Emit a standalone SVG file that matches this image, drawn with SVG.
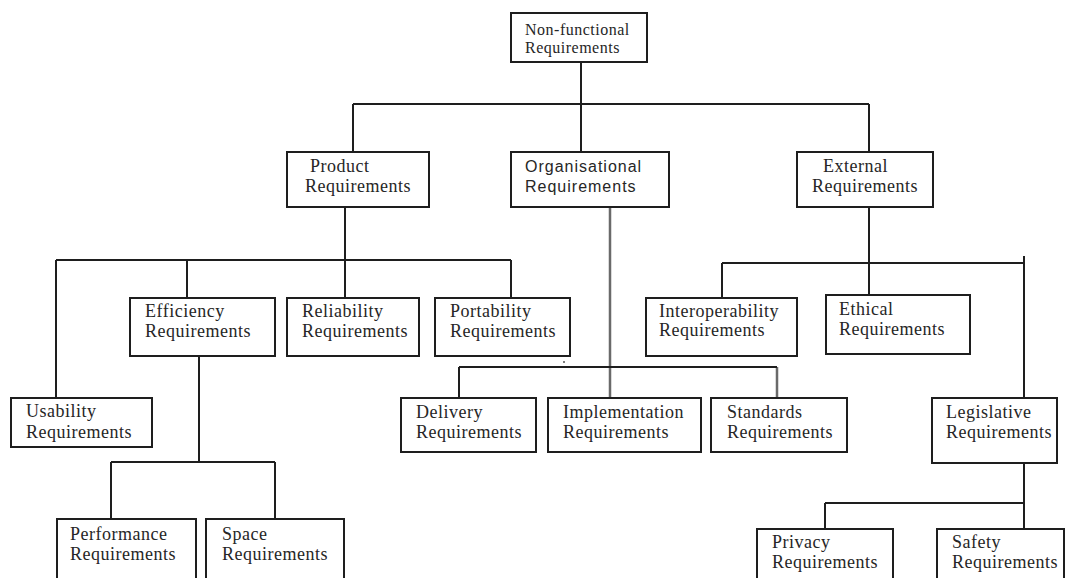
<svg xmlns="http://www.w3.org/2000/svg" width="1066" height="578" viewBox="0 0 1066 578">
<style>
.box{fill:#fff;stroke:#1e1e1e;stroke-width:2}
.t{font-family:"Liberation Serif","Times New Roman",serif;font-size:18px;letter-spacing:0.5px;fill:#262626}
.ts{font-family:"Liberation Sans",Arial,sans-serif;font-size:16px;letter-spacing:1px;fill:#262626}
.c{fill:none;stroke:#1e1e1e;stroke-width:2}
.g{fill:none;stroke:#6a6a6a;stroke-width:2.5}
</style>
<rect width="1066" height="578" fill="#fff"/>
<g id="connectors">
<path class="c" d="M581 62 V104 M353 104 H869 M353 104 V152 M581 104 V152 M869 104 V152"/>
<path class="c" d="M345 207 V298 M56 260 H511 M56 260 V398 M187 260 V298 M511 260 V298"/>
<path class="c" d="M199 356 V462 M111 462 H275 M111 462 V519 M275 462 V519"/>
<path class="g" d="M610 207 V398 M777 367 V398"/>
<path class="c" d="M459 367 H777 M459 367 V398"/>
<path class="c" d="M869 207 V295 M722 263 H1024 M722 263 V298 M1024 256 V398"/>
<path class="c" d="M1024 463 V529 M825 503 H1024 M825 503 V529"/>
<circle cx="564" cy="362" r="1" fill="#555"/>
</g>
<g id="root"><rect class="box" x="511" y="13" width="136" height="49"/><text class="t" style="font-size:16px" x="525" y="35">Non-functional</text><text class="t" style="font-size:16px" x="525" y="53">Requirements</text></g>
<g id="product"><rect class="box" x="287" y="152" width="142" height="55"/><text class="t" x="310" y="172">Product</text><text class="t" x="305" y="192">Requirements</text></g>
<g id="organisational"><rect class="box" x="511" y="152" width="158" height="55"/><text class="ts" x="525" y="172">Organisational</text><text class="ts" x="525" y="192">Requirements</text></g>
<g id="external"><rect class="box" x="797" y="152" width="136" height="55"/><text class="t" x="823" y="172">External</text><text class="t" x="812" y="192">Requirements</text></g>
<g id="efficiency"><rect class="box" x="130" y="298" width="145" height="58"/><text class="t" x="145" y="317">Efficiency</text><text class="t" x="145" y="337">Requirements</text></g>
<g id="reliability"><rect class="box" x="287" y="298" width="132" height="58"/><text class="t" x="302" y="317">Reliability</text><text class="t" x="302" y="337">Requirements</text></g>
<g id="portability"><rect class="box" x="435" y="298" width="135" height="58"/><text class="t" x="450" y="317">Portability</text><text class="t" x="450" y="337">Requirements</text></g>
<g id="interoperability"><rect class="box" x="646" y="298" width="151" height="58"/><text class="t" x="659" y="317">Interoperability</text><text class="t" x="659" y="336">Requirements</text></g>
<g id="ethical"><rect class="box" x="826" y="295" width="144" height="59"/><text class="t" x="839" y="315">Ethical</text><text class="t" x="839" y="335">Requirements</text></g>
<g id="usability"><rect class="box" x="11" y="398" width="141" height="49"/><text class="t" x="26" y="417">Usability</text><text class="t" x="26" y="438">Requirements</text></g>
<g id="delivery"><rect class="box" x="401" y="398" width="135" height="54"/><text class="t" x="416" y="418">Delivery</text><text class="t" x="416" y="438">Requirements</text></g>
<g id="implementation"><rect class="box" x="548" y="398" width="153" height="54"/><text class="t" x="563" y="418">Implementation</text><text class="t" x="563" y="438">Requirements</text></g>
<g id="standards"><rect class="box" x="711" y="398" width="136" height="54"/><text class="t" x="727" y="418">Standards</text><text class="t" x="727" y="438">Requirements</text></g>
<g id="legislative"><rect class="box" x="932" y="398" width="125" height="65"/><text class="t" x="946" y="418">Legislative</text><text class="t" x="946" y="438">Requirements</text></g>
<g id="performance"><rect class="box" x="57" y="519" width="139" height="70"/><text class="t" x="70" y="540">Performance</text><text class="t" x="70" y="560">Requirements</text></g>
<g id="space"><rect class="box" x="206" y="519" width="138" height="70"/><text class="t" x="222" y="540">Space</text><text class="t" x="222" y="560">Requirements</text></g>
<g id="privacy"><rect class="box" x="757" y="529" width="136" height="60"/><text class="t" x="772" y="548">Privacy</text><text class="t" x="772" y="568">Requirements</text></g>
<g id="safety"><rect class="box" x="937" y="529" width="127" height="60"/><text class="t" x="952" y="548">Safety</text><text class="t" x="952" y="568">Requirements</text></g>
</svg>
